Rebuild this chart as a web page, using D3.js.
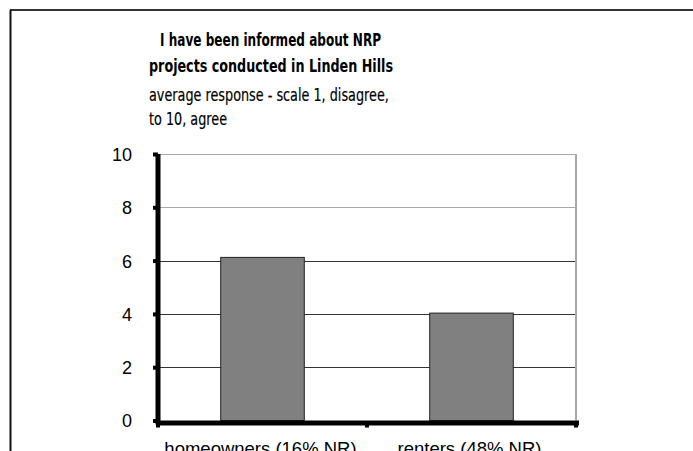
<!DOCTYPE html>
<html>
<head>
<meta charset="utf-8">
<script src="https://cdn.jsdelivr.net/npm/d3@7"></script>
<style>
html,body{margin:0;padding:0;background:#fff;overflow:hidden;}
svg{display:block;}
</style>
</head>
<body>
<script>
const categories = ["homeowners (16% NR)", "renters (48% NR)"];
const values = [6.12, 4.03];
const yTicks = [0, 2, 4, 6, 8, 10];
const titleLines = ["I have been informed about NRP", "projects conducted in Linden Hills"];
const subtitleLines = ["average response - scale 1, disagree,", "to 10, agree"];

const W = 693, H = 451;
const svg = d3.select("body").append("svg").attr("width", W).attr("height", H);

// outer frame (top and left edges visible)
svg.append("line").attr("x1", 10).attr("x2", W).attr("y1", 10).attr("y2", 10)
  .attr("stroke", "#333").attr("stroke-width", 2);
svg.append("line").attr("x1", 10.5).attr("x2", 10.5).attr("y1", 10).attr("y2", H)
  .attr("stroke", "#111").attr("stroke-width", 2);

const plot = {left: 158, right: 576, top: 154, bottom: 420.5};

const x = d3.scaleBand().domain(categories).range([plot.left, plot.right])
  .paddingInner(0.6).paddingOuter(0.3);
const y = d3.scaleLinear().domain([0, 10]).range([plot.bottom, plot.top]);

// gridlines
svg.append("g").selectAll("line").data(yTicks.filter(d => d > 0)).join("line")
  .attr("x1", plot.left + 2).attr("x2", plot.right)
  .attr("y1", d => Math.round(y(d)) + 0.5).attr("y2", d => Math.round(y(d)) + 0.5)
  .attr("stroke", d => d >= 8 ? "#a8a8a8" : "#333").attr("stroke-width", 1);

// right edge of plot area
svg.append("line").attr("x1", plot.right).attr("x2", plot.right)
  .attr("y1", plot.top).attr("y2", plot.bottom)
  .attr("stroke", "#a8a8a8").attr("stroke-width", 2);

// bars
svg.append("g").selectAll("rect").data(values).join("rect")
  .attr("x", (d, i) => x(categories[i]))
  .attr("width", x.bandwidth())
  .attr("y", d => y(d))
  .attr("height", d => y(0) - y(d))
  .attr("fill", "#808080").attr("stroke", "#222").attr("stroke-width", 1);

// y axis
const yAxis = svg.append("g").attr("transform", `translate(${plot.left},0)`)
  .call(d3.axisLeft(y).tickValues(yTicks).tickSize(5).tickPadding(21).tickFormat(d3.format("d")));
yAxis.select(".domain").remove();
yAxis.selectAll(".tick line").attr("stroke", "#000").attr("stroke-width", 4);
yAxis.selectAll(".tick text").attr("font-family", "Liberation Sans, Arial, sans-serif")
  .attr("font-size", 18).attr("fill", "#000").attr("dy", "0.36em");
svg.append("line").attr("x1", plot.left).attr("x2", plot.left)
  .attr("y1", plot.top).attr("y2", plot.bottom + 4)
  .attr("stroke", "#000").attr("stroke-width", 5);

// x axis
svg.append("line").attr("x1", plot.left - 2).attr("x2", plot.right + 3)
  .attr("y1", plot.bottom + 2.5).attr("y2", plot.bottom + 2.5)
  .attr("stroke", "#000").attr("stroke-width", 5);
const bounds = [plot.left, (plot.left + plot.right) / 2, plot.right];
svg.append("g").selectAll("rect").data(bounds).join("rect")
  .attr("x", d => d - 2).attr("width", 4)
  .attr("y", plot.bottom + 2).attr("height", 5).attr("fill", "#000");
svg.append("g").selectAll("text").data(categories).join("text")
  .attr("x", d => x(d) + x.bandwidth() / 2 - 2)
  .attr("y", 455)
  .attr("text-anchor", "middle")
  .attr("font-family", "Liberation Sans, Arial, sans-serif")
  .attr("font-size", 18.5).attr("fill", "#000")
  .text(d => d);

// title (bold)
const fontFam = "DejaVu Sans, Verdana, sans-serif";
const tStart = [160, 149], tLen = [221, 244], tBase = [46, 72];
svg.append("g").selectAll("text").data(titleLines).join("text")
  .attr("x", (d, i) => tStart[i]).attr("y", (d, i) => tBase[i])
  .attr("textLength", (d, i) => tLen[i]).attr("lengthAdjust", "spacingAndGlyphs")
  .attr("font-family", fontFam)
  .attr("font-weight", "bold").attr("font-size", 18).attr("fill", "#000")
  .text(d => d);

// subtitle
const subG = svg.append("g");
const sBase = [101, 125];
const sNodes = subG.selectAll("text").data(subtitleLines).join("text")
  .attr("x", 0).attr("y", (d, i) => sBase[i])
  .attr("font-family", fontFam)
  .attr("font-size", 17.5).attr("fill", "#000")
  .attr("stroke", "#000").attr("stroke-width", 0.2)
  .text(d => d);
const sW = sNodes.nodes()[0].getComputedTextLength();
const sScale = 240 / sW;
subG.attr("transform", `translate(149,0) scale(${sScale},1)`);
</script>
</body>
</html>
